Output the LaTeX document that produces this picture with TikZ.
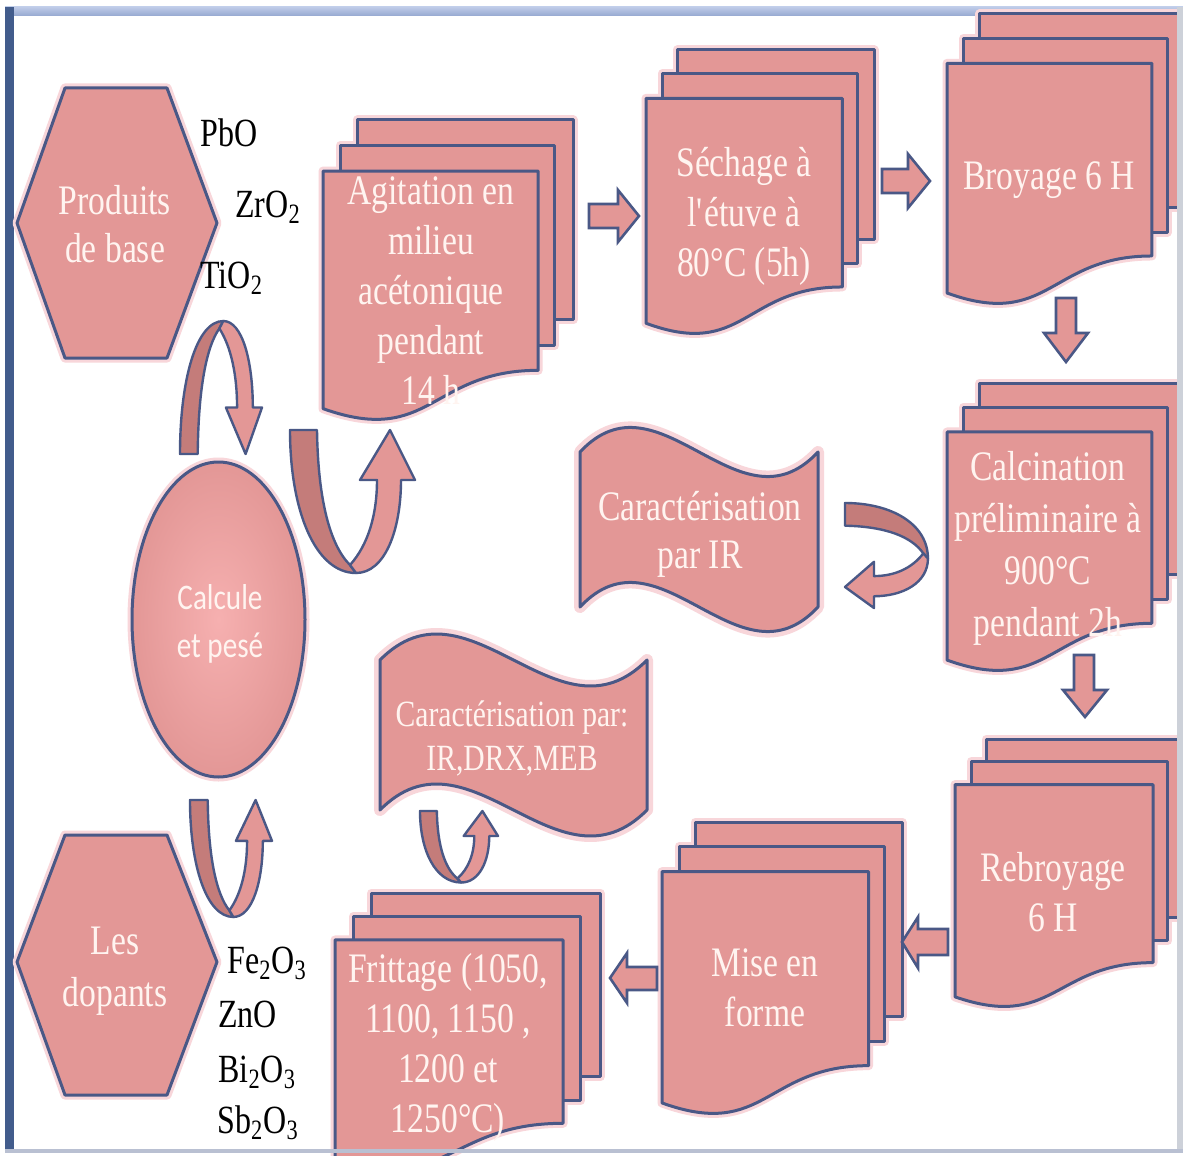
\documentclass[tikz,border=0pt]{standalone}
\usepackage{fontspec}
\setmainfont{Liberation Serif}[FakeStretch=0.8]
\newfontfamily\calib{Carlito}[FakeStretch=0.81]
\definecolor{pk}{RGB}{227,151,150}
\definecolor{pkd}{RGB}{196,124,122}
\definecolor{pkc}{RGB}{246,176,176}
\definecolor{ol}{RGB}{74,88,134}
\definecolor{glw}{RGB}{248,214,218}
\definecolor{wtxt}{RGB}{255,244,240}
\definecolor{topA}{RGB}{190,203,232}
\definecolor{topB}{RGB}{150,168,208}
\definecolor{leftbar}{RGB}{66,92,140}
\definecolor{rightbar}{RGB}{205,209,217}
\definecolor{botbar}{RGB}{185,192,210}
\tikzset{
 shp/.style={fill=pk, draw=ol, line width=1.5pt, line join=round},
 glow/.style={draw=glw, line width=4.5pt, line join=round},
 udark/.style={fill=pkd, draw=ol, line width=1.2pt, line join=round},
 ulight/.style={fill=pk, draw=ol, line width=1.2pt, line join=round},
 barrow/.style={fill=pk, draw=ol, line width=1.3pt, line join=miter},
 wt/.style={text=wtxt, align=center, inner sep=0pt, font=\fontsize{21}{25}\selectfont},
 bt/.style={text=black, inner sep=0pt, anchor=base west, font=\fontsize{20}{24}\selectfont},
}
% multi-document stack: left, top, width, height (pixels)
\newcommand\mdoc[4]{%
 \pgfmathsetmacro\mdXa{#1+0.1376*#3}\pgfmathsetmacro\mdXb{#1+#3}%
 \pgfmathsetmacro\mdYa{#2}\pgfmathsetmacro\mdYb{#2+0.6663*#4}%
 \pgfmathsetmacro\mdXc{#1+0.0709*#3}\pgfmathsetmacro\mdXd{#1+0.9259*#3}%
 \pgfmathsetmacro\mdYc{#2+0.0840*#4}\pgfmathsetmacro\mdYd{#2+0.7524*#4}%
 \pgfmathsetmacro\mdXe{#1}\pgfmathsetmacro\mdXf{#1+0.8609*#3}\pgfmathsetmacro\mdXm{#1+0.4305*#3}%
 \pgfmathsetmacro\mdYe{#2+0.1701*#4}\pgfmathsetmacro\mdYf{#2+0.8344*#4}%
 \pgfmathsetmacro\mdYg{#2+0.9621*#4}\pgfmathsetmacro\mdYh{#2+1.0899*#4}%
 \draw[glow] (\mdXa,\mdYa) rectangle (\mdXb,\mdYb);
 \draw[glow] (\mdXc,\mdYc) rectangle (\mdXd,\mdYd);
 \draw[glow] (\mdXe,\mdYe) -- (\mdXf,\mdYe) -- (\mdXf,\mdYf) .. controls (\mdXm,\mdYf) and (\mdXm,\mdYh) .. (\mdXe,\mdYg) -- cycle;
 \filldraw[shp] (\mdXa,\mdYa) rectangle (\mdXb,\mdYb);
 \filldraw[shp] (\mdXc,\mdYc) rectangle (\mdXd,\mdYd);
 \filldraw[shp] (\mdXe,\mdYe) -- (\mdXf,\mdYe) -- (\mdXf,\mdYf) .. controls (\mdXm,\mdYf) and (\mdXm,\mdYh) .. (\mdXe,\mdYg) -- cycle;
}
% wave banner: left, top, right, bottom, control offset
\newcommand\wavebox[5]{%
 \pgfmathsetmacro\wbA{#1+(#3-#1)/3}\pgfmathsetmacro\wbB{#1+2*(#3-#1)/3}%
 \pgfmathsetmacro\wbTu{#2-#5}\pgfmathsetmacro\wbTd{#2+#5}%
 \pgfmathsetmacro\wbBu{#4-#5}\pgfmathsetmacro\wbBd{#4+#5}%
 \draw[glow, line width=6pt] (#1,#2) .. controls (\wbA,\wbTu) and (\wbB,\wbTd) .. (#3,#2) -- (#3,#4) .. controls (\wbB,\wbBd) and (\wbA,\wbBu) .. (#1,#4) -- cycle;
 \filldraw[shp] (#1,#2) .. controls (\wbA,\wbTu) and (\wbB,\wbTd) .. (#3,#2) -- (#3,#4) .. controls (\wbB,\wbBd) and (\wbA,\wbBu) .. (#1,#4) -- cycle;
}
% U-turn ribbon arrow in canonical 125 x 143 box
\newcommand\uarrowshape{%
 \filldraw[udark] (0,0) -- (27,0) .. controls (28,70) and (40,115) .. (60,135) -- (66,143) .. controls (25,143) and (0,80) .. (0,0) -- cycle;
 \filldraw[ulight] (60,135) .. controls (78,115) and (87,85) .. (87,50) -- (70,50) -- (100,0) -- (125,50) -- (111,50) .. controls (111,100) and (95,143) .. (66,143) -- cycle;
}
\begin{document}
\begin{tikzpicture}[x=0.5pt,y=-0.5pt]
\useasboundingbox (0,0) rectangle (1183,1156);
\clip (0,0) rectangle (1183,1156);
\fill[white] (0,0) rectangle (1183,1156);
% frame top and left
\shade[top color=topA, bottom color=topB] (5,7) rectangle (1183,16);
\fill[leftbar] (5,7) rectangle (14,1153);

% hexagons
\draw[glow] (65,88) -- (167,88) -- (217,223) -- (167,358) -- (65,358) -- (17,223) -- cycle;
\filldraw[shp] (65,88) -- (167,88) -- (217,223) -- (167,358) -- (65,358) -- (17,223) -- cycle;
\draw[glow] (65,835) -- (167,835) -- (217,962) -- (167,1095) -- (65,1095) -- (17,962) -- cycle;
\filldraw[shp] (65,835) -- (167,835) -- (217,962) -- (167,1095) -- (65,1095) -- (17,962) -- cycle;

% U-turn arrows
\begin{scope}[shift={(180,454)}, x={(0.328pt,0pt)}, y={(0pt,0.465pt)}]\uarrowshape\end{scope}
\begin{scope}[shift={(290,430)}, x={(0.5pt,0pt)}, y={(0pt,-0.5pt)}]\uarrowshape\end{scope}
\begin{scope}[shift={(190,800)}, x={(0.328pt,0pt)}, y={(0pt,-0.409pt)}]\uarrowshape\end{scope}
\begin{scope}[shift={(420,811)}, x={(0.312pt,0pt)}, y={(0pt,-0.25pt)}]\uarrowshape\end{scope}
\begin{scope}[shift={(845,503)}, x={(0pt,-0.42pt)}, y={(0.29pt,0pt)}]\uarrowshape\end{scope}

% ellipse
\draw[glow] (218.5,619.5) ellipse [x radius=86.5, y radius=157.5];
\shade[inner color=pkc, outer color=pk] (218.5,619.5) ellipse [x radius=86.5, y radius=157.5];
\draw[draw=ol, line width=1.5pt] (218.5,619.5) ellipse [x radius=86.5, y radius=157.5];

% document stacks
\mdoc{323}{120}{250}{300}
\mdoc{646}{50}{228}{284}
\mdoc{947}{14}{238}{290}
\mdoc{947}{383}{238}{288}
\mdoc{955}{739}{230}{268}
\mdoc{662}{822}{240}{292}
\mdoc{335}{893}{265}{276}

% wave banners
\wavebox{580}{452}{818}{607}{85}
\wavebox{380}{660}{647}{810}{90}

% block arrows
\filldraw[barrow] (589,204) -- (618,204) -- (618,190) -- (639,216) -- (618,242) -- (618,228) -- (589,228) -- cycle;
\filldraw[barrow] (882,169) -- (908,169) -- (908,154) -- (930,181) -- (908,208) -- (908,193) -- (882,193) -- cycle;
\filldraw[barrow] (1056,298) -- (1076,298) -- (1076,333) -- (1088,333) -- (1066,362) -- (1044,333) -- (1056,333) -- cycle;
\filldraw[barrow] (1074,655) -- (1094,655) -- (1094,690) -- (1107,690) -- (1085,717) -- (1063,690) -- (1074,690) -- cycle;
\filldraw[barrow] (948,929) -- (918,929) -- (918,917) -- (902,942) -- (918,968) -- (918,955) -- (948,955) -- cycle;
\filldraw[barrow] (657,967) -- (627,967) -- (627,953) -- (610,978) -- (627,1003) -- (627,990) -- (657,990) -- cycle;

% texts
\node[wt, font=\fontsize{21}{24}\selectfont] (prod) at (115,224) {Produits\\de base};
\node[wt, font=\fontsize{21}{26}\selectfont] (dop) at (115,971) {Les\\dopants};
\node[wt, font=\calib\fontsize{18}{24}\selectfont] (calcul) at (220,624) {Calcule\\et pesé};
\node[wt] (agit) at (431,291) {Agitation en\\milieu\\acétonique\\pendant\\14 h};
\node[wt] (sech) at (744,216) {Séchage à\\l\textquotesingle étuve à\\80°C (5h)};
\node[wt] (broy) at (1049,180) {Broyage 6 H};
\node[wt, font=\fontsize{21}{26}\selectfont] (calc) at (1048,548) {Calcination\\préliminaire à\\900°C\\pendant 2h};
\node[wt] (rebr) at (1053,892) {Rebroyage\\6 H};
\node[wt] (mise) at (765,988) {Mise en\\forme};
\node[wt] (fritt) at (448,1047) {Frittage (1050,\\1100, 1150 ,\\1200 et\\1250°C)};
\node[wt, font=\fontsize{21}{24}\selectfont] (carir) at (700,534) {Caractérisation\\par IR};
\node[wt, font=\fontsize{18.5}{22}\selectfont] (cardrx) at (512,738) {Caractérisation par:\\IR,DRX,MEB};

\node[bt] (pbo) at (200,147) {PbO};
\node[bt] (zro) at (235,217) {ZrO\textsubscript{2}};
\node[bt] (tio) at (200,288) {TiO\textsubscript{2}};
\node[bt] (fe) at (227,973) {Fe\textsubscript{2}O\textsubscript{3}};
\node[bt] (zno) at (218,1027) {ZnO};
\node[bt] (bi) at (218,1082) {Bi\textsubscript{2}O\textsubscript{3}};
\node[bt] (sb) at (217,1133) {Sb\textsubscript{2}O\textsubscript{3}};

% frame right and bottom
\fill[rightbar] (1177,7) rectangle (1183,1153);
\fill[botbar] (5,1149) rectangle (1183,1153);
\end{tikzpicture}
\end{document}
